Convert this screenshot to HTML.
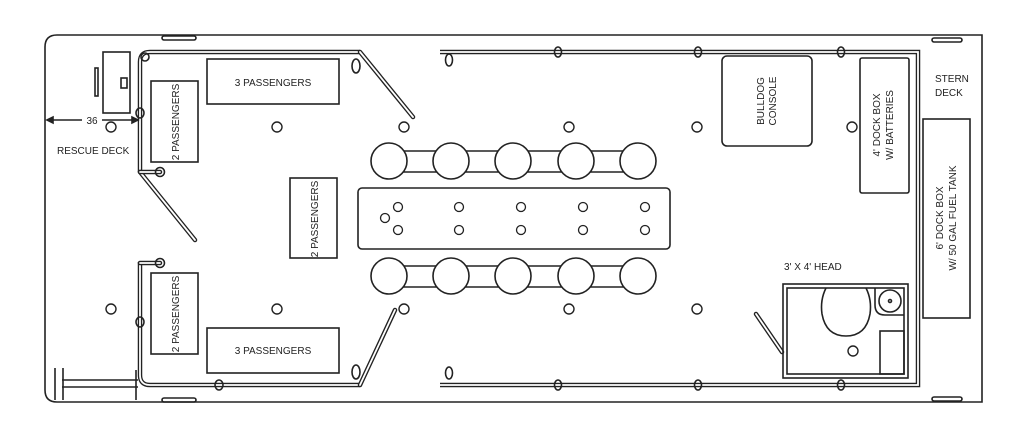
<!DOCTYPE html>
<html><head><meta charset="utf-8"><style>
html,body{margin:0;padding:0;background:#fff;}
svg{display:block;}
text{font-family:"Liberation Sans",sans-serif;font-size:10px;fill:#222;}
</style></head><body>
<svg width="1023" height="431" viewBox="0 0 1023 431" xmlns="http://www.w3.org/2000/svg">
<g fill="none" stroke="#222" stroke-width="1.6">
<path d="M57 35 H982 V402 H57 Q45 402 45 390 V47 Q45 35 57 35 Z"/>
<rect x="162" y="36" width="34" height="4" rx="2"/>
<rect x="162" y="398" width="34" height="4" rx="2"/>
<rect x="932" y="38" width="30" height="4" rx="2"/>
<rect x="932" y="397" width="30" height="4" rx="2"/>
<path d="M140 172 V62 Q140 52 150 52 H360" stroke-width="4.5"/>
<path d="M140 172 V62 Q140 52 150 52 H360" stroke="#fff" stroke-width="1.8"/>
<path d="M140 262 V375 Q140 385 150 385 H360" stroke-width="4.5"/>
<path d="M140 262 V375 Q140 385 150 385 H360" stroke="#fff" stroke-width="1.8"/>
<path d="M440 52 H918 V385 H440" stroke-width="4.5"/>
<path d="M440 52 H918 V385 H440" stroke="#fff" stroke-width="1.8"/>
<path d="M360 52 L413 117" stroke-width="4.5" stroke-linecap="round"/>
<path d="M360 52 L413 117" stroke="#fff" stroke-width="1.8" stroke-linecap="round"/>
<path d="M140 172 L195 240" stroke-width="4.5" stroke-linecap="round"/>
<path d="M140 172 L195 240" stroke="#fff" stroke-width="1.8" stroke-linecap="round"/>
<path d="M360 385 L395 310" stroke-width="4.5" stroke-linecap="round"/>
<path d="M360 385 L395 310" stroke="#fff" stroke-width="1.8" stroke-linecap="round"/>
<path d="M140 172 H160 M140 263 H160" stroke-width="4.5" stroke-linecap="round"/>
<path d="M140 172 H160 M140 263 H160" stroke="#fff" stroke-width="1.8" stroke-linecap="round"/>
<path d="M756 314 L782 352" stroke-width="4.5" stroke-linecap="round"/>
<path d="M756 314 L782 352" stroke="#fff" stroke-width="1.8" stroke-linecap="round"/>
<ellipse cx="356" cy="66" rx="4" ry="7"/><ellipse cx="449" cy="60" rx="3.5" ry="6"/>
<ellipse cx="356" cy="372" rx="4" ry="7"/><ellipse cx="449" cy="373" rx="3.5" ry="6"/>
<ellipse cx="145" cy="57" rx="4" ry="4"/>
<ellipse cx="140" cy="113" rx="4" ry="5"/><ellipse cx="140" cy="322" rx="4" ry="5"/>
<ellipse cx="160" cy="172" rx="4.5" ry="4.5"/><ellipse cx="160" cy="263" rx="4.5" ry="4.5"/>
<ellipse cx="219" cy="385" rx="4" ry="5"/>
<ellipse cx="558" cy="52" rx="3.5" ry="5"/><ellipse cx="698" cy="52" rx="3.5" ry="5"/><ellipse cx="841" cy="52" rx="3.5" ry="5"/>
<ellipse cx="558" cy="385" rx="3.5" ry="5"/><ellipse cx="698" cy="385" rx="3.5" ry="5"/><ellipse cx="841" cy="385" rx="3.5" ry="5"/>
<rect x="103" y="52" width="27" height="61"/>
<rect x="95" y="68" width="3" height="28"/>
<rect x="121" y="78" width="6" height="10"/>
<path d="M55 368 V400 M63 368 V400 M62 380 H138 M62 387 H138 M136 370 V400"/>
<path d="M47 120 H82 M102 120 H138"/>
<path d="M47 120 l6 -3 v6 z M138 120 l-6 -3 v6 z" fill="#222"/>
<rect x="207" y="59" width="132" height="45"/>
<rect x="207" y="328" width="132" height="45"/>
<rect x="151" y="81" width="47" height="81"/>
<rect x="151" y="273" width="47" height="81"/>
<rect x="290" y="178" width="47" height="80"/>
<path d="M389 151 H638 M389 172 H638 M389 266 H638 M389 287 H638"/>
<g fill="#fff">
<circle cx="389" cy="161" r="18"/><circle cx="451" cy="161" r="18"/><circle cx="513" cy="161" r="18"/><circle cx="576" cy="161" r="18"/><circle cx="638" cy="161" r="18"/>
<circle cx="389" cy="276" r="18"/><circle cx="451" cy="276" r="18"/><circle cx="513" cy="276" r="18"/><circle cx="576" cy="276" r="18"/><circle cx="638" cy="276" r="18"/>
</g>
<rect x="358" y="188" width="312" height="61" rx="4"/>
<g stroke-width="1.3">
<circle cx="398" cy="207" r="4.5"/><circle cx="459" cy="207" r="4.5"/><circle cx="521" cy="207" r="4.5"/><circle cx="583" cy="207" r="4.5"/><circle cx="645" cy="207" r="4.5"/>
<circle cx="398" cy="230" r="4.5"/><circle cx="459" cy="230" r="4.5"/><circle cx="521" cy="230" r="4.5"/><circle cx="583" cy="230" r="4.5"/><circle cx="645" cy="230" r="4.5"/>
<circle cx="385" cy="218" r="4.5"/>
</g>
<g stroke-width="1.4">
<circle cx="111" cy="127" r="5"/><circle cx="277" cy="127" r="5"/><circle cx="404" cy="127" r="5"/><circle cx="569" cy="127" r="5"/><circle cx="697" cy="127" r="5"/><circle cx="852" cy="127" r="5"/>
<circle cx="111" cy="309" r="5"/><circle cx="277" cy="309" r="5"/><circle cx="404" cy="309" r="5"/><circle cx="569" cy="309" r="5"/><circle cx="697" cy="309" r="5"/><circle cx="853" cy="351" r="5"/>
</g>
<rect x="722" y="56" width="90" height="90" rx="5"/>
<rect x="860" y="58" width="49" height="135" rx="2"/>
<rect x="923" y="119" width="47" height="199"/>
<rect x="783" y="284" width="125" height="94"/>
<rect x="787" y="288" width="117" height="86"/>
<path d="M826 288 Q820 300 822 314 Q826 336 846 336 Q866 336 870 314 Q872 300 866 288"/>
<path d="M875 288 V305 Q875 315 885 315 H904"/>
<circle cx="890" cy="301" r="11"/><circle cx="890" cy="301" r="1.5"/>
<rect x="880" y="331" width="24" height="43"/>
</g>
<text x="273" y="86" text-anchor="middle">3 PASSENGERS</text>
<text x="273" y="354" text-anchor="middle">3 PASSENGERS</text>
<text transform="translate(179 122) rotate(-90)" text-anchor="middle">2 PASSENGERS</text>
<text transform="translate(179 314) rotate(-90)" text-anchor="middle">2 PASSENGERS</text>
<text transform="translate(318 219) rotate(-90)" text-anchor="middle">2 PASSENGERS</text>
<text x="92" y="124" text-anchor="middle">36</text>
<text x="57" y="154">RESCUE DECK</text>
<text x="935" y="82">STERN</text>
<text x="935" y="96">DECK</text>
<text transform="translate(764 101) rotate(-90)" text-anchor="middle">BULLDOG</text>
<text transform="translate(776 101) rotate(-90)" text-anchor="middle">CONSOLE</text>
<text transform="translate(880 125) rotate(-90)" text-anchor="middle">4' DOCK BOX</text>
<text transform="translate(893 125) rotate(-90)" text-anchor="middle">W/ BATTERIES</text>
<text transform="translate(943 218) rotate(-90)" text-anchor="middle">6' DOCK BOX</text>
<text transform="translate(956 218) rotate(-90)" text-anchor="middle">W/ 50 GAL FUEL TANK</text>
<text x="784" y="270">3' X 4' HEAD</text>
</svg>
</body></html>
